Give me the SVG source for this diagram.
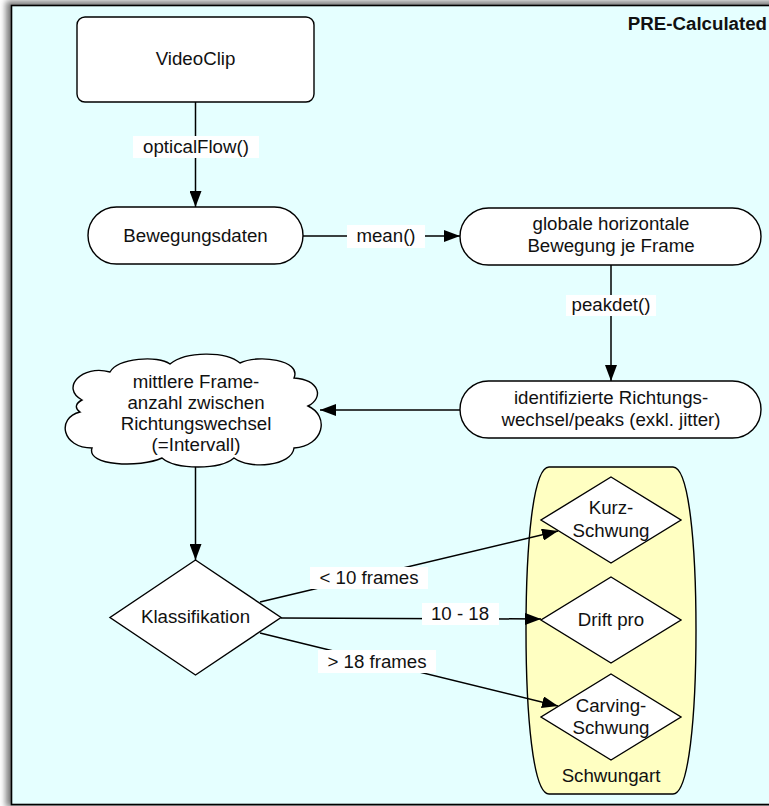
<svg xmlns="http://www.w3.org/2000/svg" width="769" height="806" viewBox="0 0 769 806">
<style>
text{font-family:"Liberation Sans",Arial,Helvetica,sans-serif;font-size:18.7px;fill:#111;text-anchor:middle}
.node{fill:#fff;stroke:#000;stroke-width:1.4}
.edge{fill:none;stroke:#000;stroke-width:1.5}
.lbl{fill:#fff;stroke:none}
</style>
<defs>
<marker id="arr" markerUnits="userSpaceOnUse" markerWidth="17" markerHeight="12" refX="16" refY="6" orient="auto">
<path d="M0,0 L16,6 L0,12 Z" fill="#000"/>
</marker>
<filter id="sh" x="-5%" y="-5%" width="110%" height="110%">
<feGaussianBlur stdDeviation="3"/>
</filter>
</defs>
<g id="frame">
<rect x="6" y="1" width="780" height="806" fill="#777" filter="url(#sh)"/>
<rect x="11.5" y="5.5" width="780" height="799" fill="#E5FFFF" stroke="#000" stroke-width="1.6"/>
<text x="767" y="30" style="font-weight:bold;text-anchor:end">PRE-Calculated</text>
</g>
<g id="schwungart">
<path d="M 549 467 L 673 467 C 689 467 696 545 696 630 C 696 715 689 794 673 794 L 549 794 C 533 794 526 715 526 630 C 526 545 533 467 549 467 Z" fill="#FFFFC2" stroke="#000" stroke-width="1.4"/>
<text x="611" y="782">Schwungart</text>
</g>
<g id="connectors">
<line class="edge" x1="195.5" y1="102" x2="195.5" y2="207" marker-end="url(#arr)"/>
<rect class="lbl" x="133" y="136" width="126" height="22"/>
<text x="196" y="153">opticalFlow()</text>
<line class="edge" x1="303" y1="236" x2="460" y2="236" marker-end="url(#arr)"/>
<rect class="lbl" x="347" y="225" width="78" height="23"/>
<text x="386" y="242">mean()</text>
<line class="edge" x1="611" y1="265" x2="611" y2="381" marker-end="url(#arr)"/>
<rect class="lbl" x="566" y="295" width="90" height="21"/>
<text x="611" y="311">peakdet()</text>
<line class="edge" x1="460" y1="410" x2="320" y2="410" marker-end="url(#arr)"/>
<line class="edge" x1="195.5" y1="465" x2="195.5" y2="560" marker-end="url(#arr)"/>
<line class="edge" x1="260" y1="602" x2="558" y2="531" marker-end="url(#arr)"/>
<rect class="lbl" x="310" y="567" width="118" height="22"/>
<text x="369" y="584">&lt; 10 frames</text>
<line class="edge" x1="281" y1="618" x2="541" y2="619" marker-end="url(#arr)"/>
<rect class="lbl" x="422" y="603" width="77" height="22"/>
<text x="460" y="620">10 - 18</text>
<line class="edge" x1="260" y1="633" x2="558" y2="706" marker-end="url(#arr)"/>
<rect class="lbl" x="318" y="650" width="118" height="23"/>
<text x="377" y="668">&gt; 18 frames</text>
</g>
<g id="videoclip">
<rect class="node" x="77" y="17" width="237" height="85" rx="8"/>
<text x="195.5" y="65">VideoClip</text>
</g>
<g id="bewegungsdaten">
<rect class="node" x="88" y="207" width="215" height="57" rx="28.5"/>
<text x="195.5" y="242">Bewegungsdaten</text>
</g>
<g id="globale">
<rect class="node" x="460" y="208" width="301" height="57" rx="28.5"/>
<text x="611" y="230">globale horizontale</text>
<text x="611" y="252">Bewegung je Frame</text>
</g>
<g id="identifizierte">
<rect class="node" x="460" y="381" width="301" height="57" rx="28.5"/>
<text x="611" y="404">identifizierte Richtungs-</text>
<text x="611" y="426">wechsel/peaks (exkl. jitter)</text>
</g>
<g id="cloud">
<path class="node" d="M 82 400 C 60 388 82 364 110 372 C 118 358 158 355 170 364 C 186 351 226 351 240 363 C 258 354 302 360 294 378 C 320 380 324 398 308 406 C 330 416 324 446 294 448 C 292 466 250 470 234 458 C 220 470 176 470 162 458 C 140 468 86 466 92 448 C 62 448 56 418 80 412 C 74 408 76 403 82 400 Z"/>
<text x="196" y="388">mittlere Frame-</text>
<text x="196" y="409">anzahl zwischen</text>
<text x="196" y="430">Richtungswechsel</text>
<text x="196" y="451">(=Intervall)</text>
</g>
<g id="klassifikation">
<path class="node" d="M 195.5 560 L 281 617.5 L 195.5 675 L 110 617.5 Z"/>
<text x="195.5" y="623">Klassifikation</text>
</g>
<g id="kurz">
<path class="node" d="M 611 477 L 681 520 L 611 563 L 541 520 Z"/>
<text x="611" y="514">Kurz-</text>
<text x="611" y="537">Schwung</text>
</g>
<g id="drift">
<path class="node" d="M 611 577 L 681 620 L 611 663 L 541 620 Z"/>
<text x="611" y="626">Drift pro</text>
</g>
<g id="carving">
<path class="node" d="M 611 674 L 681 717 L 611 760 L 541 717 Z"/>
<text x="611" y="712">Carving-</text>
<text x="611" y="734">Schwung</text>
</g>
</svg>
